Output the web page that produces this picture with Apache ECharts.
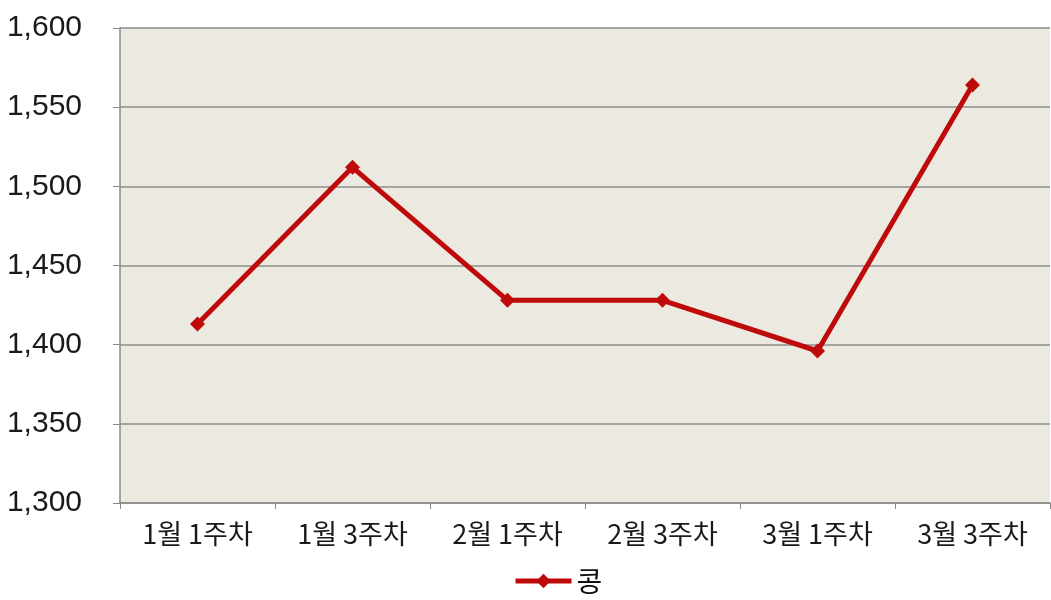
<!DOCTYPE html>
<html>
<head>
<meta charset="utf-8">
<script src="https://cdn.jsdelivr.net/npm/echarts@6/dist/echarts.min.js"></script>
<style>
html,body{margin:0;padding:0;background:#fff;}
#container{width:1051px;height:600px;}
</style>
</head>
<body>
<div id="container"></div>
<script type="text/javascript">
	var weeks = ['1월 1주차', '1월 3주차', '2월 1주차', '2월 3주차', '3월 1주차', '3월 3주차'];
	var kongPrice = [1413, 1512, 1428, 1428, 1396, 1564];

	var myChart = echarts.init(document.getElementById('container'));
	var option = {
		backgroundColor: '#ffffff',
		grid: {
			left: 120,
			right: 1,
			top: 28,
			bottom: 97,
			outerBoundsMode: 'none',
			containLabel: false,
			show: true,
			backgroundColor: '#ECE9E0',
			borderWidth: 0
		},
		legend: {
			data: ['콩'],
			top: 562,
			left: 508,
			padding: 5,
			itemWidth: 56,
			itemHeight: 18,
			itemGap: 2,
			lineStyle: { width: 5 },
			textStyle: {
				fontFamily: 'Noto Sans CJK KR',
				fontSize: 28,
				color: '#111'
			}
		},
		xAxis: {
			type: 'category',
			boundaryGap: true,
			data: weeks,
			axisLine: { lineStyle: { color: '#8a8a8a', width: 1.5 } },
			axisTick: { show: true, length: 6, lineStyle: { color: '#8a8a8a' } },
			axisLabel: {
				margin: 17,
				fontFamily: 'Noto Sans CJK KR',
				fontSize: 27,
				color: '#1a1a1a'
			}
		},
		yAxis: {
			type: 'value',
			min: 1300,
			max: 1600,
			interval: 50,
			axisLine: { show: true, lineStyle: { color: '#8a8a8a', width: 1.5 } },
			axisTick: { show: true, length: 7, lineStyle: { color: '#8a8a8a' } },
			splitLine: { lineStyle: { color: '#8c8c8c', width: 1.5 } },
			axisLabel: {
				margin: 38,
				fontFamily: 'Liberation Sans',
				fontSize: 30,
				color: '#1a1a1a',
				formatter: function (v) { return v.toLocaleString('en-US'); }
			}
		},
		series: [
			{
				name: '콩',
				type: 'line',
				data: kongPrice,
				symbol: 'diamond',
				symbolSize: 15,
				lineStyle: { color: '#BE0A0A', width: 5 },
				itemStyle: { color: '#BE0A0A' }
			}
		]
	};
	myChart.setOption(option);
</script>
</body>
</html>
